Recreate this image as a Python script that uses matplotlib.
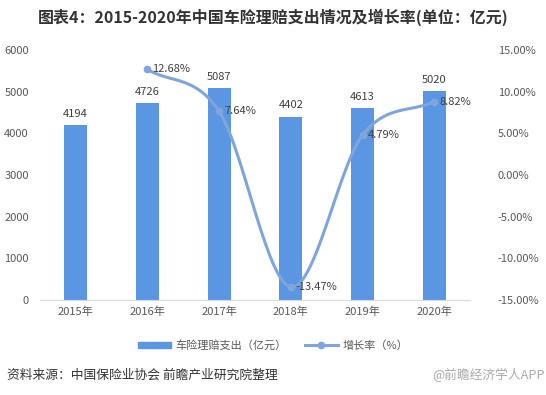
import numpy as np
import matplotlib
matplotlib.use("Agg")
import matplotlib.pyplot as plt
from matplotlib.lines import Line2D
from matplotlib.patches import Patch

plt.rcParams['font.family'] = ['Noto Sans CJK SC', 'DejaVu Sans']

years = ['2015年', '2016年', '2017年', '2018年', '2019年', '2020年']
payout = [4194, 4726, 5087, 4402, 4613, 5020]
growth_years = [1, 2, 3, 4, 5]
growth = [12.68, 7.64, -13.47, 4.79, 8.82]

bar_color = '#5b96e3'
line_color = '#7ea6dc'
text_color = '#404040'
tick_color = '#595959'


def catmull_rom(xs, ys, n=30):
    # smooth curve through the points, like Excel's smoothed line
    xs = np.asarray(xs, float)
    ys = np.asarray(ys, float)
    px = np.concatenate([[2 * xs[0] - xs[1]], xs, [2 * xs[-1] - xs[-2]]])
    py = np.concatenate([[2 * ys[0] - ys[1]], ys, [2 * ys[-1] - ys[-2]]])
    ox, oy = [], []
    for i in range(1, len(px) - 2):
        t = np.linspace(0, 1, n)
        for p, out in ((px, ox), (py, oy)):
            p0, p1, p2, p3 = p[i - 1], p[i], p[i + 1], p[i + 2]
            out.extend(0.5 * ((2 * p1) + (-p0 + p2) * t
                              + (2 * p0 - 5 * p1 + 4 * p2 - p3) * t ** 2
                              + (-p0 + 3 * p1 - 3 * p2 + p3) * t ** 3))
    return np.array(ox), np.array(oy)


fig = plt.figure(figsize=(5.46, 3.95), dpi=100)
ax = fig.add_axes([0.073, 0.241, 0.788, 0.632])
x = np.arange(len(years))
ax.bar(x, payout, width=0.32, color=bar_color, zorder=2)
for xi, v in zip(x, payout):
    ax.text(xi, v + 150, str(v), ha='center', va='bottom', fontsize=8, color=text_color)

ax.set_ylim(0, 6000)
ax.set_yticks(range(0, 6001, 1000))
ax.set_xlim(-0.5, 5.5)
ax.set_xticks(x)
ax.set_xticklabels(years)
ax.tick_params(axis='both', length=0, labelsize=8, colors=tick_color)
ax.tick_params(axis='x', pad=5)
ax.tick_params(axis='y', pad=8)
for s in ['top', 'right', 'left']:
    ax.spines[s].set_visible(False)
ax.spines['bottom'].set_color('#d9d9d9')

ax2 = ax.twinx()
sx, sy = catmull_rom(growth_years, growth)
ax2.plot(sx, sy, color=line_color, lw=2.2, zorder=3)
ax2.plot(growth_years, growth, 'o', color=line_color, ms=4.5, zorder=4)
ax2.set_ylim(-15, 15)
ax2.set_yticks(range(-15, 16, 5))
ax2.set_yticklabels([f'{v:.2f}%' for v in range(-15, 16, 5)])
ax2.tick_params(axis='y', length=0, labelsize=8, colors=tick_color, pad=20)
for s in ['top', 'right', 'left', 'bottom']:
    ax2.spines[s].set_visible(False)
for xi, g in zip(growth_years, growth):
    ax2.text(xi + 0.07, g, f'{g:.2f}%', ha='left', va='center', fontsize=8, color=text_color)

handles = [Patch(color=bar_color, label='车险理赔支出（亿元）'),
           Line2D([0], [0], color=line_color, lw=2.2, marker='o', ms=4.5, label='增长率（%）')]
fig.legend(handles=handles, loc='center', bbox_to_anchor=(0.5, 0.125), ncol=2, frameon=False,
           fontsize=8, labelcolor=tick_color, handlelength=3.0, columnspacing=1.6,
           handleheight=0.5, handletextpad=0.4)

fig.text(0.5, 0.955, '图表4：2015-2020年中国车险理赔支出情况及增长率(单位：亿元)', ha='center', va='center',
         fontsize=11.5, fontweight='bold', color='#333333')
fig.text(0.013, 0.05, '资料来源：中国保险业协会 前瞻产业研究院整理', ha='left', va='center',
         fontsize=9.2, color='#333333')
fig.text(0.998, 0.05, '@前瞻经济学人APP', ha='right', va='center', fontsize=9.2, color='#aaaaaa')

fig.savefig('out.png', dpi=100)
